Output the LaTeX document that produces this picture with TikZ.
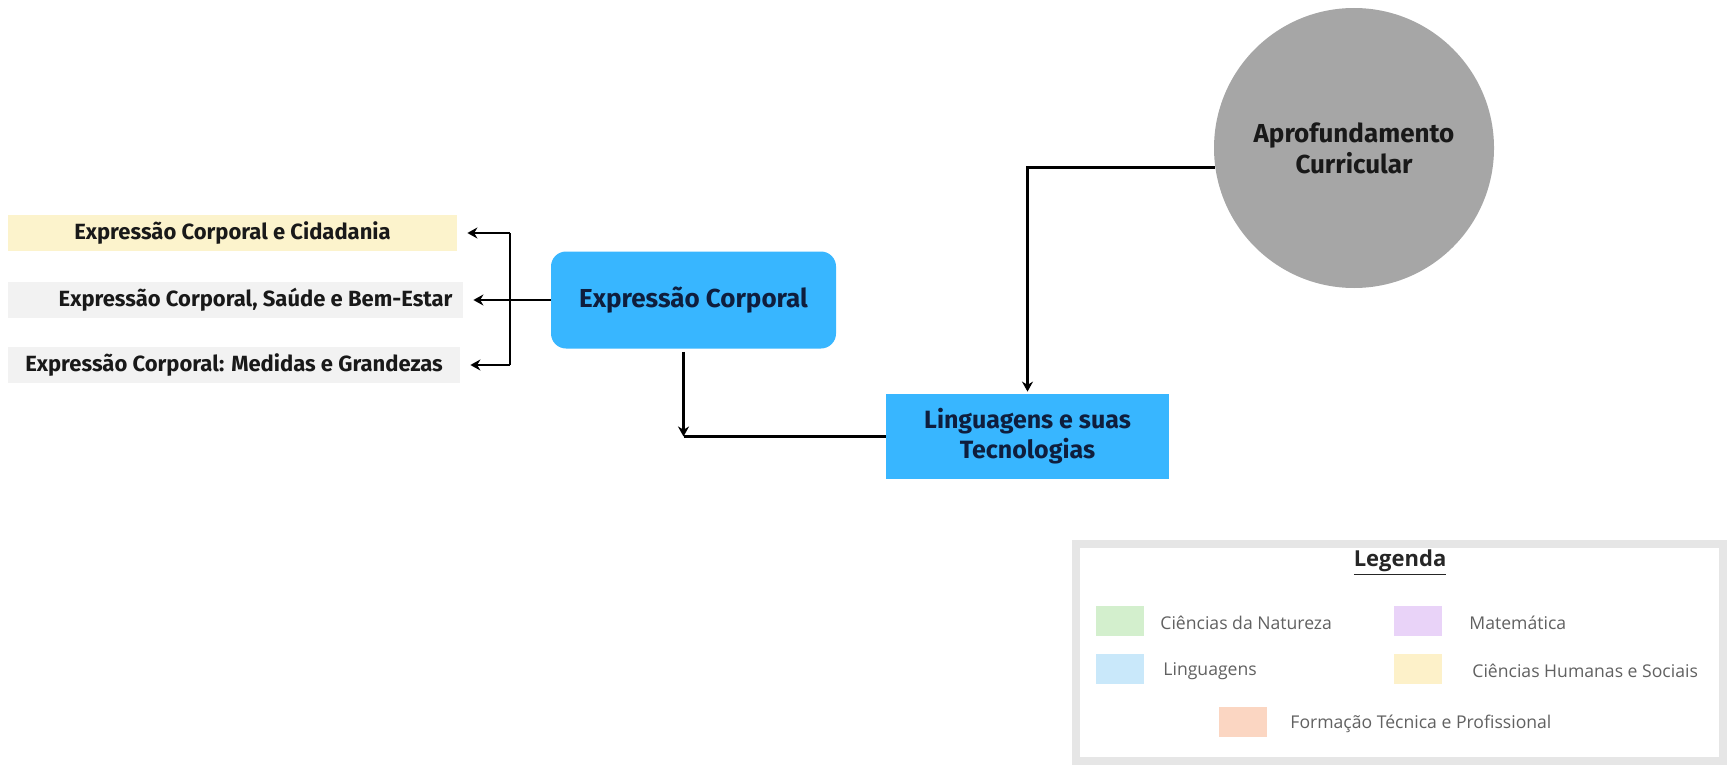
\documentclass[tikz,border=0pt]{standalone}
\usepackage{fontspec}
\setmainfont{Fira Sans}
\newfontfamily\legfont{Open Sans}
\usetikzlibrary{arrows.meta}

\definecolor{boxblue}{HTML}{38B6FF}
\definecolor{navytext}{HTML}{0F1E3D}
\definecolor{circgrey}{HTML}{A6A6A6}
\definecolor{sideyellow}{HTML}{FCF3CC}
\definecolor{sidegrey}{HTML}{F2F2F2}
\definecolor{legborder}{HTML}{E6E6E6}
\definecolor{legreen}{HTML}{D3EFCD}
\definecolor{legpurple}{HTML}{E9D3F8}
\definecolor{legblue}{HTML}{C9E8FA}
\definecolor{legyellow}{HTML}{FDF1C9}
\definecolor{legorange}{HTML}{FBD6C2}

\begin{document}
\begin{tikzpicture}[x=0.5pt, y=-0.5pt,
    conn/.style={line width=1.4pt, black},
    tip/.style={conn, -{Stealth[length=5pt, width=5.5pt]}},
    sidebox/.style={rectangle, fill=sidegrey, minimum width=226pt, minimum height=18pt, inner sep=0pt, font=\bfseries\fontsize{11}{12}\selectfont, text=black!90},
    mainbox/.style={rectangle, fill=boxblue, inner sep=0pt, align=center, font=\bfseries\fontsize{12.5}{15}\selectfont, text=navytext},
    swatch/.style={rectangle, minimum width=24pt, minimum height=15pt, inner sep=0pt},
    legtext/.style={anchor=west, inner sep=0pt, font=\legfont\fontsize{8.8}{10}\selectfont, text=black!62}]

    \useasboundingbox (0,0) rectangle (1727,765);

    \node[sidebox, fill=sideyellow, minimum width=224.5pt] (cid) at (232.5,233) {Expressão Corporal e Cidadania};
    \node[sidebox, minimum width=227.5pt, text width=217pt, align=flush right] (sau) at (235.5,300) {Expressão Corporal, Saúde e Bem-Estar};
    \node[sidebox] (med) at (234,365) {Expressão Corporal: Medidas e Grandezas};

    \node[mainbox, rounded corners=7.5pt, minimum width=142.5pt, minimum height=48.5pt, font=\bfseries\fontsize{13}{15}\selectfont] (expr) at (693.5,300) {Expressão Corporal};
    \node[mainbox, minimum width=141.5pt, minimum height=42.5pt] (ling) at (1027.5,436.5) {Linguagens e suas\\Tecnologias};
    \node[circle, fill=circgrey, minimum size=140pt, inner sep=0pt, align=center, font=\bfseries\fontsize{13}{15.5}\selectfont, text=black!90] (aprof) at (1354,148) {Aprofundamento\\Curricular};

    \coordinate (jt) at (510,233);
    \coordinate (jb) at (510,365);
    \draw[conn] (jt) -- (jb);
    \draw[tip, shorten >=5pt] (jt) -- (cid);
    \draw[tip, shorten >=5pt] (expr) -- (sau);
    \draw[tip, shorten >=5pt] (jb) -- (med);

    \path ([xshift=-5pt]expr.south) coordinate (es);
    \coordinate (kn) at (es |- ling.west);
    \draw[tip, shorten <=1.5pt] (es) -- (kn);
    \draw[conn] (ling.west) -- (kn);
    \draw[tip, shorten >=1pt] (aprof.188) -| (ling.north);

    \draw[line width=4pt, draw=legborder, fill=white] (1076,544) rectangle (1723,761);
    \node[font=\legfont\bfseries\fontsize{11}{12}\selectfont, text=black!85] (legtitle) at (1400,563) {\underline{Legenda}};

    \node[swatch, fill=legreen] (sw1) at (1120,621) {};
    \node[legtext] (lt1) at (1160,623) {Ciências da Natureza};
    \node[swatch, fill=legblue] (sw2) at (1120,669) {};
    \node[legtext] (lt2) at (1163,671) {Linguagens};
    \node[swatch, fill=legpurple] (sw3) at (1417.5,621) {};
    \node[legtext] (lt3) at (1469,623) {Matemática};
    \node[swatch, fill=legyellow] (sw4) at (1417.5,669) {};
    \node[legtext] (lt4) at (1472,671) {Ciências Humanas e Sociais};
    \node[swatch, fill=legorange] (sw5) at (1243,722) {};
    \node[legtext] (lt5) at (1290,724) {Formação Técnica e Profissional};
\end{tikzpicture}
\end{document}
